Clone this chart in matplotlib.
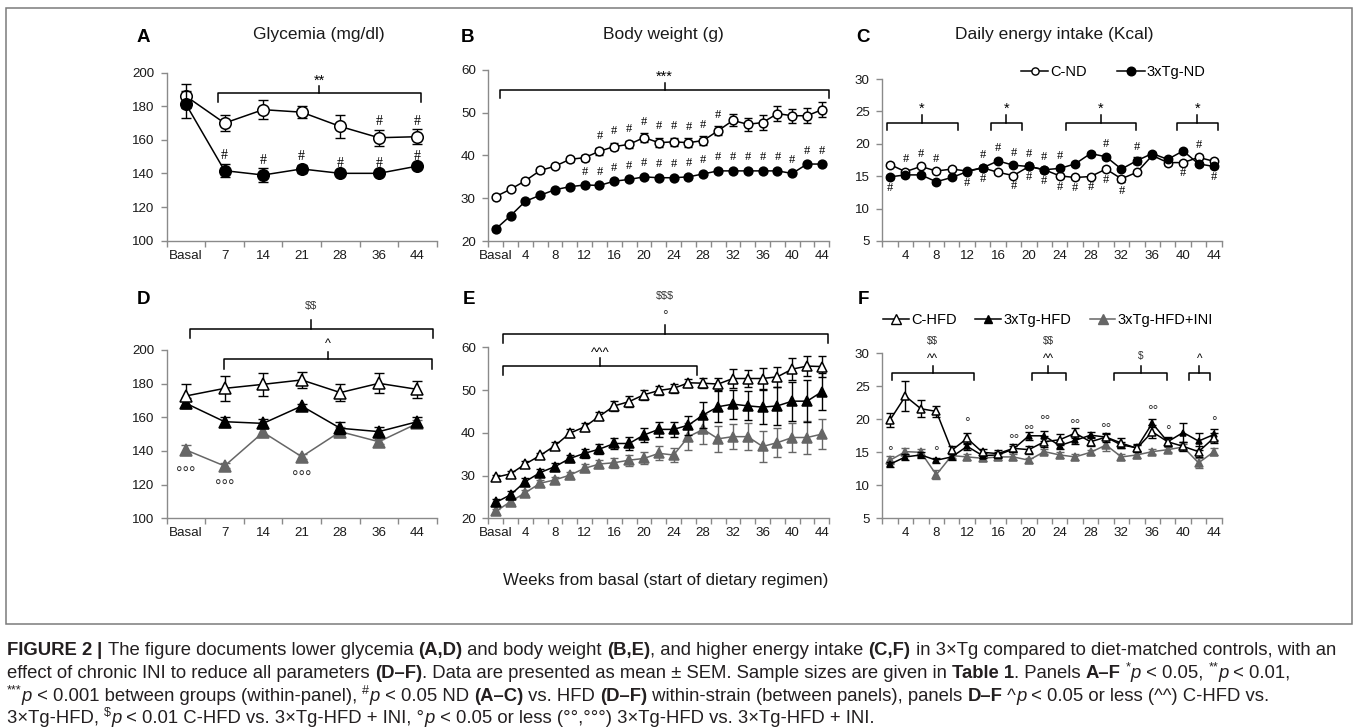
import matplotlib
matplotlib.use('Agg')
import matplotlib.pyplot as plt
from matplotlib.lines import Line2D
from matplotlib.patches import Rectangle
from matplotlib import font_manager
import numpy as np

W, H, DPI = 1358, 728, 100


def has_font(name):
    try:
        font_manager.findfont(font_manager.FontProperties(family=name), fallback_to_default=False)
        return True
    except Exception:
        return False


SANS = 'Liberation Sans' if has_font('Liberation Sans') else 'DejaVu Sans'
SERIF = 'Liberation Serif' if has_font('Liberation Serif') else 'DejaVu Serif'
plt.rcParams['font.family'] = [SANS, 'DejaVu Sans']
plt.rcParams['text.parse_math'] = False

# ----------------------------- DATA -----------------------------
# Glycemia (panels A, D)
gly_labels = ['Basal', '7', '14', '21', '28', '36', '44']
glyA_cnd = [186, 170, 178, 176.5, 168, 161.3, 161.9]
glyA_cnd_err = [7, 5, 5.5, 3.5, 7, 4.7, 4.4]
glyA_tgnd = [181.2, 141.7, 139.1, 142.7, 140.1, 140.1, 144.4]
glyA_tgnd_err = [8, 4, 4, 2.5, 1, 1, 1]

glyD_chfd = [172.7, 177.2, 179.6, 182.2, 174.7, 180.2, 176.6]
glyD_chfd_err = [7, 7.5, 7, 5, 5, 6, 5]
glyD_tghfd = [168.3, 157.4, 156.4, 166.7, 153.5, 151.5, 157.4]
glyD_tghfd_err = [3, 3, 2.5, 1.5, 3.5, 3, 3]
glyD_ini = [140.6, 131.1, 151.1, 136.6, 151.5, 145.5, 156.4]
glyD_ini_err = [3, 1.5, 2.5, 1.5, 3, 1.5, 2]

# Body weight (panels B, E) -- weeks 0 (Basal) .. 44
bw_weeks = [0, 2, 4, 6, 8, 10, 12, 14, 16, 18, 20, 22, 24, 26, 28, 30, 32, 34, 36, 38, 40, 42, 44]
bwB_cnd = [30.4, 32.1, 34.1, 36.5, 37.5, 39.1, 39.5, 41.0, 42.1, 42.6, 44.2, 43.0, 43.2, 43.0, 43.5,
           45.8, 48.2, 47.3, 47.7, 49.8, 49.3, 49.3, 50.7]
bwB_cnd_err = [0.4, 0.4, 0.5, 0.5, 0.5, 0.6, 0.7, 0.8, 0.9, 0.9, 1.0, 1.1, 1.0, 1.0, 1.0,
               1.0, 1.4, 1.5, 1.8, 1.7, 1.6, 1.7, 1.8]
bwB_tgnd = [22.8, 25.9, 29.3, 30.7, 32.0, 32.7, 33.1, 33.0, 34.0, 34.4, 35.0, 34.8, 34.8, 35.0, 35.7,
            36.4, 36.4, 36.4, 36.4, 36.4, 35.8, 38.0, 38.0]
bwB_tgnd_err = [0.4] * 23

bwE_chfd = [29.6, 30.4, 32.7, 34.7, 37.0, 39.9, 41.4, 43.9, 46.3, 47.3, 48.9, 49.9, 50.4, 51.7, 51.6,
            51.4, 52.7, 52.7, 52.7, 53.1, 54.9, 55.6, 55.5]
bwE_chfd_err = [0.5, 0.6, 0.6, 0.6, 0.8, 0.9, 1.0, 1.0, 1.1, 1.2, 1.2, 1.0, 1.0, 1.0, 1.2,
                1.5, 2.2, 2.0, 2.5, 2.4, 2.5, 2.3, 2.4]
bwE_tghfd = [23.7, 25.5, 28.6, 30.7, 32.1, 34.0, 35.2, 36.2, 37.5, 37.5, 39.5, 40.8, 40.8, 41.8, 44.2,
             46.1, 46.7, 46.3, 46.0, 46.3, 47.4, 47.4, 49.6]
bwE_tghfd_err = [0.8, 0.9, 0.8, 0.8, 0.8, 0.9, 1.0, 1.1, 1.2, 1.6, 1.6, 1.7, 1.7, 2.2, 3.0,
                 3.6, 3.4, 3.4, 4.0, 4.4, 4.6, 4.9, 4.3]
bwE_ini = [21.6, 23.9, 26.0, 28.2, 29.0, 30.1, 31.7, 32.7, 33.0, 33.6, 34.0, 35.2, 34.8, 39.1, 40.8,
           38.6, 39.1, 39.1, 36.8, 37.7, 38.9, 38.9, 39.7]
bwE_ini_err = [0.6, 0.6, 0.6, 0.7, 0.7, 0.8, 0.9, 1.0, 1.2, 1.3, 1.4, 1.6, 1.7, 3.2, 3.5,
               3.0, 3.0, 3.2, 3.6, 3.4, 3.5, 3.9, 3.6]

# Daily energy intake (panels C, F) -- weeks 2 .. 44
ei_weeks = [2, 4, 6, 8, 10, 12, 14, 16, 18, 20, 22, 24, 26, 28, 30, 32, 34, 36, 38, 40, 42, 44]
eiC_cnd = [16.8, 15.7, 16.5, 15.8, 16.1, 15.8, 16.3, 15.6, 15.1, 16.5, 16.0, 15.05, 14.8, 14.95, 16.1,
           14.6, 15.6, 18.2, 17.1, 17.1, 17.9, 17.3]
eiC_cnd_err = [0.3, 0.3, 0.3, 0.3, 0.3, 0.3, 0.3, 0.3, 0.3, 0.3, 0.3, 0.3, 0.3, 0.3, 0.3,
               0.5, 0.3, 0.3, 0.3, 0.3, 0.3, 0.3]
eiC_tgnd = [14.9, 15.2, 15.2, 14.15, 14.8, 15.7, 16.3, 17.35, 16.7, 16.5, 16.0, 16.2, 16.9, 18.5, 18.0,
            16.1, 17.4, 18.5, 17.6, 18.9, 16.9, 16.5]
eiC_tgnd_err = [0.3, 0.3, 0.3, 0.3, 0.3, 0.3, 0.3, 0.3, 0.3, 0.3, 0.3, 0.3, 0.3, 0.3, 0.3,
                0.3, 0.5, 0.3, 0.3, 0.3, 0.3, 0.3]

eiF_chfd = [19.9, 23.5, 21.6, 21.2, 15.3, 17.1, 15.0, 14.8, 15.6, 15.4, 16.6, 16.9, 17.9, 16.6, 17.3,
            16.4, 15.6, 18.1, 16.6, 15.9, 15.1, 17.2]
eiF_chfd_err = [1.0, 2.3, 1.3, 0.8, 0.6, 0.8, 0.5, 0.5, 0.6, 0.6, 0.8, 0.8, 0.8, 0.7, 0.7,
                0.7, 0.5, 1.0, 0.7, 0.7, 0.8, 0.8]
eiF_tghfd = [13.2, 14.3, 14.6, 13.8, 14.3, 15.9, 14.5, 14.6, 15.5, 17.5, 17.5, 16.0, 16.8, 17.6, 17.3,
             16.1, 15.7, 19.4, 16.6, 18.0, 16.7, 17.7]
eiF_tghfd_err = [0.4, 0.4, 0.4, 0.4, 0.4, 0.5, 0.4, 0.4, 0.5, 0.6, 0.8, 0.5, 0.6, 0.5, 0.5,
                 0.5, 0.5, 0.6, 0.6, 1.5, 1.3, 0.9]
eiF_ini = [13.8, 15.1, 15.0, 11.6, 14.5, 14.3, 14.1, 14.3, 14.3, 13.8, 15.1, 14.6, 14.3, 15.0, 16.1,
           14.3, 14.6, 15.1, 15.4, 15.8, 13.4, 15.1]
eiF_ini_err = [0.6, 0.5, 0.5, 0.7, 0.4, 0.4, 0.4, 0.4, 0.4, 0.4, 0.4, 0.4, 0.4, 0.4, 0.9,
               0.4, 0.4, 0.4, 0.4, 0.4, 0.8, 0.5]

# significance marks (category indices)
A_hash_cnd = [5, 6]
A_hash_tg = [1, 2, 3, 4, 5, 6]
B_hash_cnd = [7, 8, 9, 10, 11, 12, 13, 14, 15]
B_hash_tg = [6, 7, 8, 9, 10, 11, 12, 13, 14, 15, 16, 17, 18, 19, 20, 21, 22]
C_hash_above = [1, 2, 3, 6, 7, 8, 9, 10, 11, 14, 16, 20]
C_hash_below = [0, 5, 6, 8, 9, 10, 11, 12, 13, 14, 15, 19, 21]
D_circ_cats = [0, 1, 3]
F_circ = [(0, 1, 15.6), (3, 1, 15.6), (5, 1, 20.0), (8, 2, 17.5), (9, 2, 18.9), (10, 2, 20.4),
          (12, 2, 19.7), (14, 2, 19.1), (17, 2, 21.8), (18, 1, 18.9), (21, 1, 20.2)]

# ----------------------------- STYLE -----------------------------
AX = '#8a8a8a'
GRAY = '#666666'
TXT = '#1a1a1a'

fig = plt.figure(figsize=(W / DPI, H / DPI), dpi=DPI)


def ax_at(l, t, r, b):
    return fig.add_axes([l / W, 1 - b / H, (r - l) / W, (b - t) / H])


def style_axes(ax, n, ylim, yticks, lab_pos, lab_txt):
    ax.set_xlim(-0.5, n - 0.5)
    ax.set_ylim(*ylim)
    for s in ['top', 'right']:
        ax.spines[s].set_visible(False)
    for s in ['left', 'bottom']:
        ax.spines[s].set_color(AX)
        ax.spines[s].set_linewidth(1.0)
    ax.set_yticks(yticks)
    ax.set_yticklabels([str(v) for v in yticks])
    ax.set_xticks(lab_pos)
    ax.set_xticklabels(lab_txt)
    ax.set_xticks(np.arange(-0.5, n), minor=True)
    ax.tick_params(axis='x', which='major', length=0, pad=6.5, labelsize=9.6, labelcolor=TXT)
    ax.tick_params(axis='x', which='minor', length=4, width=1, color=AX, direction='out')
    ax.tick_params(axis='y', length=4, width=1, color=AX, direction='out', pad=5, labelsize=9.6,
                   labelcolor=TXT)
    ax.patch.set_visible(False)


def series(ax, y, err, color, marker, ms, mfc, z, cap=3.4, lw=1.1):
    x = np.arange(len(y))
    ax.errorbar(x, y, yerr=err, fmt='none', ecolor=color, elinewidth=1.0, capsize=cap,
                capthick=1.0, zorder=z, clip_on=False)
    ax.plot(x, y, color=color, lw=lw, marker=marker, ms=ms, mfc=mfc, mec=color, mew=1.1,
            zorder=z + 1, clip_on=False)


def mark(ax, x, y, s, fs, c_em, family=None, color='black'):
    ax.annotate(s, (x, y), xytext=(0, -c_em * fs), textcoords='offset points', ha='center',
                va='baseline', fontsize=fs, color=color, family=family or [SANS, 'DejaVu Sans'],
                annotation_clip=False)


def bracket(ax, x0, x1, xc, y, drop, rise, lw=1.1):
    ax.plot([x0, x0, x1, x1], [y - drop, y, y, y - drop], color='black', lw=lw, clip_on=False,
            solid_joinstyle='round', zorder=6)
    ax.plot([xc, xc], [y, y + rise], color='black', lw=lw, clip_on=False, zorder=6)


def hashes(ax, cats, vals, errs, off, fs):
    for c in cats:
        mark(ax, c, vals[c] + errs[c] + off, '#', fs, 0.33, family=[SERIF, 'DejaVu Serif'])


# ----------------------------- PANEL A -----------------------------
axA = ax_at(166.7, 72.7, 436.7, 240.7)
style_axes(axA, 7, (100, 200), list(range(100, 201, 20)), list(range(7)), gly_labels)
series(axA, glyA_cnd, glyA_cnd_err, 'black', 'o', 8.3, 'white', 2)
series(axA, glyA_tgnd, glyA_tgnd_err, 'black', 'o', 8.3, 'black', 4)
hashes(axA, A_hash_cnd, glyA_cnd, glyA_cnd_err, 5.5, 10)
hashes(axA, A_hash_tg, glyA_tgnd, glyA_tgnd_err, 5.5, 10)
bracket(axA, 0.84, 6.09, 3.46, 187.7, 5, 4.3)
mark(axA, 3.46, 197.8, '**', 10.5, 0.58)

# ----------------------------- PANEL B -----------------------------
bw_lab_pos = [i for i, w in enumerate(bw_weeks) if w % 4 == 0]
bw_lab_txt = ['Basal' if bw_weeks[i] == 0 else str(bw_weeks[i]) for i in bw_lab_pos]
axB = ax_at(488.3, 70, 829.3, 241)
style_axes(axB, 23, (20, 60), [20, 30, 40, 50, 60], bw_lab_pos, bw_lab_txt)
series(axB, bwB_cnd, bwB_cnd_err, 'black', 'o', 6.3, 'white', 2, cap=3.0)
series(axB, bwB_tgnd, bwB_tgnd_err, 'black', 'o', 6.3, 'black', 4, cap=3.0)
hashes(axB, B_hash_cnd, bwB_cnd, bwB_cnd_err, 3.0, 9)
hashes(axB, B_hash_tg, bwB_tgnd, bwB_tgnd_err, 3.0, 9)
bracket(axB, 0.3, 22.5, 11.4, 55.3, 1.9, 1.6)
mark(axB, 11.4, 59.5, '***', 10.5, 0.58)

# ----------------------------- PANEL C -----------------------------
ei_lab_pos = [i for i, w in enumerate(ei_weeks) if w % 4 == 0]
ei_lab_txt = [str(ei_weeks[i]) for i in ei_lab_pos]
axC = ax_at(882.3, 79, 1221.7, 241)
style_axes(axC, 22, (5, 30), [5, 10, 15, 20, 25, 30], ei_lab_pos, ei_lab_txt)
series(axC, eiC_cnd, eiC_cnd_err, 'black', 'o', 6.0, 'white', 2, cap=2.6)
series(axC, eiC_tgnd, eiC_tgnd_err, 'black', 'o', 6.0, 'black', 4, cap=2.6)
for c in C_hash_above:
    top = max(eiC_cnd[c] + eiC_cnd_err[c], eiC_tgnd[c] + eiC_tgnd_err[c])
    mark(axC, c, top + 1.8, '#', 9, 0.33, family=[SERIF, 'DejaVu Serif'])
for c in C_hash_below:
    bot = min(eiC_cnd[c] - eiC_cnd_err[c], eiC_tgnd[c] - eiC_tgnd_err[c])
    mark(axC, c, bot - 1.2, '#', 9, 0.33, family=[SERIF, 'DejaVu Serif'])
for x0, x1, xc in [(-0.2, 4.4, 2.06), (6.56, 8.53, 7.53), (11.4, 15.96, 13.68), (18.63, 21.28, 19.93)]:
    bracket(axC, x0, x1, xc, 23.26, 1.15, 1.25)
    mark(axC, xc, 26.1, '*', 10.5, 0.58)
legC = [Line2D([], [], color='black', lw=1.1, marker='o', ms=5.2, mfc='white', mec='black', mew=1.0),
        Line2D([], [], color='black', lw=1.1, marker='o', ms=6.2, mfc='black', mec='black')]
axC.legend(legC, ['C-ND', '3xTg-ND'], loc='center', bbox_to_anchor=(1113 / W, 1 - 71.7 / H),
           bbox_transform=fig.transFigure, ncol=2, frameon=False, fontsize=10.5, handlelength=1.9,
           handletextpad=0.1, columnspacing=2.1, borderaxespad=0, borderpad=0)

# ----------------------------- PANEL D -----------------------------
axD = ax_at(166.7, 350, 436.7, 518.3)
style_axes(axD, 7, (100, 200), list(range(100, 201, 20)), list(range(7)), gly_labels)
series(axD, glyD_ini, glyD_ini_err, GRAY, '^', 8.6, GRAY, 2)
series(axD, glyD_tghfd, glyD_tghfd_err, 'black', '^', 8.6, 'black', 4)
series(axD, glyD_chfd, glyD_chfd_err, 'black', '^', 8.6, 'white', 6)
for c in D_circ_cats:
    mark(axD, c, glyD_ini[c] - glyD_ini_err[c] - 8.5, '\u00b0\u00b0\u00b0', 11.5, 0.58, color='#333333')
bracket(axD, 0.1, 6.4, 3.23, 212.3, 5.3, 5.5)
mark(axD, 3.23, 226.7, '$$', 8, 0.33, color='#333333')
bracket(axD, 0.98, 6.37, 3.67, 194.5, 5.5, 4.5)
mark(axD, 3.67, 206, '^', 9, 0.53)

# ----------------------------- PANEL E -----------------------------
axE = ax_at(488.3, 347.3, 829.3, 518.3)
style_axes(axE, 23, (20, 60), [20, 30, 40, 50, 60], bw_lab_pos, bw_lab_txt)
series(axE, bwE_ini, bwE_ini_err, GRAY, '^', 6.6, GRAY, 2, cap=3.0)
series(axE, bwE_tghfd, bwE_tghfd_err, 'black', '^', 6.6, 'black', 4, cap=3.0)
series(axE, bwE_chfd, bwE_chfd_err, 'black', '^', 6.6, 'white', 6, cap=3.0)
bracket(axE, 0.47, 22.4, 11.4, 63.1, 2.0, 2.1)
mark(axE, 11.4, 68.3, '\u00b0', 10, 0.58, color='#333333')
mark(axE, 11.4, 72.2, '$$$', 7.8, 0.33, color='#333333')
bracket(axE, 0.47, 13.55, 7.03, 55.6, 2.1, 1.8)
mark(axE, 7.03, 59.6, '^^^', 9.5, 0.53)

# ----------------------------- PANEL F -----------------------------
axF = ax_at(882.3, 353.3, 1221.7, 518.3)
style_axes(axF, 22, (5, 30), [5, 10, 15, 20, 25, 30], ei_lab_pos, ei_lab_txt)
series(axF, eiF_ini, eiF_ini_err, GRAY, '^', 6.2, GRAY, 2, cap=2.6)
series(axF, eiF_tghfd, eiF_tghfd_err, 'black', '^', 5.0, 'black', 4, cap=2.6)
series(axF, eiF_chfd, eiF_chfd_err, 'black', '^', 6.2, 'white', 6, cap=2.6)
for c, k, yy in F_circ:
    mark(axF, c, yy, '\u00b0' * k, 10, 0.58, color='#333333')
for x0, x1, xc, labs in [(0.1, 5.47, 2.78, ['^^', '$$']), (9.19, 11.4, 10.27, ['^^', '$$']),
                         (14.55, 17.96, 16.24, ['$']), (19.37, 20.74, 20.05, ['^'])]:
    bracket(axF, x0, x1, xc, 27.0, 1.0, 1.1)
    for lab, yy in zip(labs, [29.7, 31.9]):
        if '^' in lab:
            mark(axF, xc, yy, lab, 8.5, 0.53)
        else:
            mark(axF, xc, yy, lab, 7.2, 0.33, color='#333333')
legF = [Line2D([], [], color='black', lw=1.1, marker='^', ms=7, mfc='white', mec='black'),
        Line2D([], [], color='black', lw=1.1, marker='^', ms=5.5, mfc='black', mec='black'),
        Line2D([], [], color=GRAY, lw=1.1, marker='^', ms=7, mfc=GRAY, mec=GRAY)]
axF.legend(legF, ['C-HFD', '3xTg-HFD', '3xTg-HFD+INI'], loc='center',
           bbox_to_anchor=(1048 / W, 1 - 320 / H), bbox_transform=fig.transFigure, ncol=3,
           frameon=False, fontsize=10.5, handlelength=1.75, handletextpad=0.15, columnspacing=1.3,
           borderaxespad=0, borderpad=0)

# ----------------------------- TITLES / LETTERS -----------------------------
for txt, x, y in [('Glycemia (mg/dl)', 319, 35), ('Body weight (g)', 663, 35),
                  ('Daily energy intake (Kcal)', 1054, 35)]:
    fig.text(x / W, 1 - y / H, txt, ha='center', va='center', fontsize=12.5, color=TXT)
for txt, x, y in [('A', 143, 37.5), ('B', 467, 37.5), ('C', 863, 37.5),
                  ('D', 143, 300), ('E', 469, 300), ('F', 863, 300)]:
    fig.text(x / W, 1 - y / H, txt, ha='center', va='center', fontsize=13.5, fontweight='bold',
             color='black')
fig.text(666 / W, 1 - 580 / H, 'Weeks from basal (start of dietary regimen)', ha='center',
         va='center', fontsize=12.2, color=TXT)

# frame
fig.patches.append(Rectangle((6 / W, 1 - 624 / H), (1352 - 6) / W, (624 - 8) / H,
                             transform=fig.transFigure, fill=False, ec='#7a7a7a', lw=1.1))

# ----------------------------- CAPTION -----------------------------
CAP = [
    [("FIGURE 2", "b"), (" | ", "b"), ("The figure documents lower glycemia ", "n"), ("(A,D)", "b"),
     (" and body weight ", "n"), ("(B,E)", "b"), (", and higher energy intake ", "n"), ("(C,F)", "b"),
     (" in 3\u00d7Tg compared to diet-matched controls, with an", "n")],
    [("effect of chronic INI to reduce all parameters ", "n"), ("(D\u2013F)", "b"),
     (". Data are presented as mean \u00b1 SEM. Sample sizes are given in ", "n"), ("Table 1", "b"),
     (". Panels ", "n"), ("A\u2013F", "b"), (" ", "n"), ("*", "s"), ("p", "i"), (" < 0.05, ", "n"),
     ("**", "s"), ("p", "i"), (" < 0.01,", "n")],
    [("***", "s"), ("p", "i"), (" < 0.001 between groups (within-panel), ", "n"), ("#", "s"), ("p", "i"),
     (" < 0.05 ND ", "n"), ("(A\u2013C)", "b"), (" vs. HFD ", "n"), ("(D\u2013F)", "b"),
     (" within-strain (between panels), panels ", "n"), ("D\u2013F", "b"), (" ^", "n"), ("p", "i"),
     (" < 0.05 or less (^^) C-HFD vs.", "n")],
    [("3\u00d7Tg-HFD, ", "n"), ("$", "s"), ("p", "i"), (" < 0.01 C-HFD vs. 3\u00d7Tg-HFD + INI, \u00b0", "n"),
     ("p", "i"), (" < 0.05 or less (\u00b0\u00b0,\u00b0\u00b0\u00b0) 3\u00d7Tg-HFD vs. 3\u00d7Tg-HFD + INI.", "n")],
]


def draw_caption(lines, x0_px, baselines_px, target_px, color):
    r = fig.canvas.get_renderer()

    def kw(kind, size):
        d = dict(fontsize=size, family=[SANS, 'DejaVu Sans'], color=color)
        if kind == 'b':
            d['fontweight'] = 'bold'
        if kind == 'i':
            d['fontstyle'] = 'italic'
        if kind == 's':
            d['fontsize'] = size * 0.68
        return d

    def width(txt, kind, size):
        t = fig.text(0, 0, 'H' + txt + 'H', **kw(kind, size))
        w1 = t.get_window_extent(r).width
        t.remove()
        t = fig.text(0, 0, 'HH', **kw(kind, size))
        w2 = t.get_window_extent(r).width
        t.remove()
        return w1 - w2

    base = 10.0
    w = sum(width(t, k, base) for t, k in lines[0])
    size = base * target_px / w
    for segs, yb in zip(lines, baselines_px):
        x = x0_px
        for txt, k in segs:
            dy = 0.4 * size * DPI / 72 if k == 's' else 0
            fig.text(x / W, 1 - (yb - dy) / H, txt, va='baseline', ha='left', **kw(k, size))
            x += width(txt, k, size)


draw_caption(CAP, 7, [655, 678, 701, 723], 1334, '#231f20')

fig.savefig('out.png', dpi=DPI)
